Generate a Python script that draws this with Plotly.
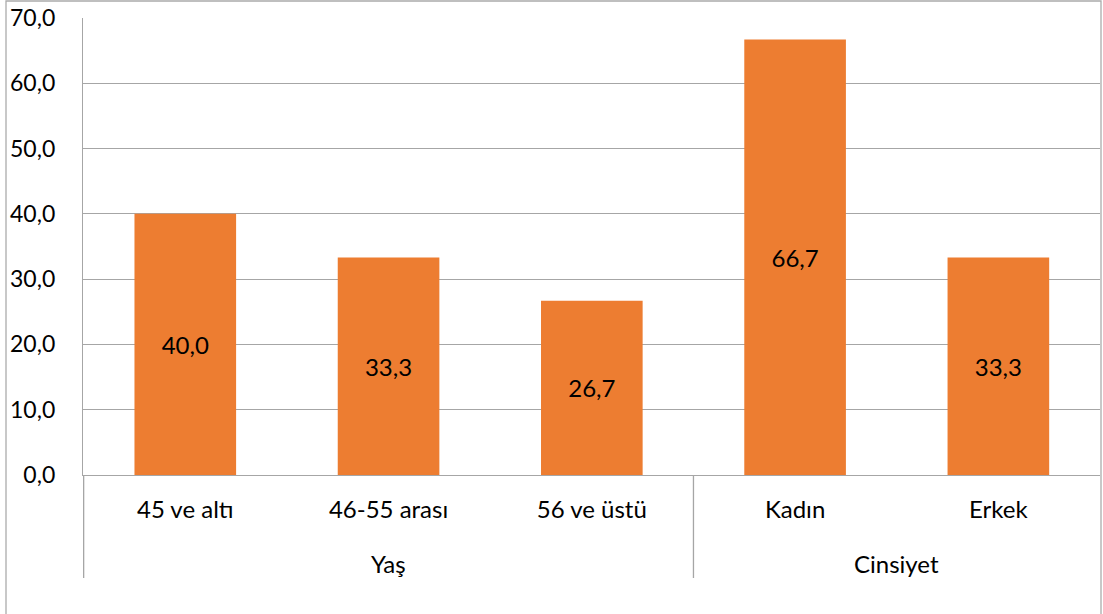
import plotly.graph_objects as go

categories = ["45 ve altı", "46-55 arası", "56 ve üstü", "Kadın", "Erkek"]
groups = ["Yaş", "Yaş", "Yaş", "Cinsiyet", "Cinsiyet"]
values = [40.0, 33.3, 26.7, 66.7, 33.3]
y_ticks = [0, 10, 20, 30, 40, 50, 60, 70]

W, H = 1103, 614
L, R, T, B = 83, 3, 18, 139
pw, ph = W - L - R, H - T - B

def py(pix):  # pixel y -> paper y
    return (H - B - pix) / ph

def px(pix):
    return (pix - L) / pw

grid = "#A6A6A6"
font = "Lato"

fig = go.Figure(go.Bar(
    x=categories, y=values,
    marker=dict(color="#ED7D31", line=dict(width=0)),
    texttemplate="%{y:.1f}", textposition="inside", insidetextanchor="middle",
    textfont=dict(family=font, size=24, color="#000000"),
    textangle=0, cliponaxis=False,
))

shapes = []
annotations = []
start = 0
for i in range(1, len(groups) + 1):
    if i == len(groups) or groups[i] != groups[start]:
        shapes.append(dict(type="line", xref="x", yref="paper",
                           x0=start - 0.5, x1=start - 0.5, y0=0, y1=py(578),
                           line=dict(color=grid, width=1.3)))
        annotations.append(dict(xref="x", yref="paper", x=(start + i - 1) / 2, y=py(563),
                                text=groups[start], showarrow=False, yanchor="middle",
                                font=dict(family=font, size=24, color="#000000")))
        start = i

shapes.append(dict(type="rect", xref="paper", yref="paper",
                   x0=px(6), x1=px(1101), y0=py(700), y1=py(1),
                   line=dict(color="#ABABAB", width=1.3), fillcolor="rgba(0,0,0,0)", layer="below"))

fig.update_layout(
    width=W, height=H,
    margin=dict(l=L, r=R, t=T, b=B, pad=0),
    paper_bgcolor="white", plot_bgcolor="white",
    separators=",.",
    bargap=0.5,
    showlegend=False,
    shapes=shapes, annotations=annotations,
    font=dict(family=font, color="#000000"),
)
fig.update_xaxes(
    type="category", showgrid=False, showline=True, linecolor=grid, linewidth=1.3,
    ticks="", tickfont=dict(family=font, size=24, color="#000000"),
    ticklabelstandoff=13, zeroline=False,
)
fig.update_yaxes(
    range=[0, 70], tickvals=y_ticks, tickformat=".1f",
    showgrid=True, gridcolor=grid, gridwidth=1.3,
    showline=True, linecolor=grid, linewidth=1.3, mirror=False,
    zeroline=False, ticks="", ticklabelstandoff=22,
    tickfont=dict(family=font, size=23, color="#000000"),
)

fig.write_html("out.html")
